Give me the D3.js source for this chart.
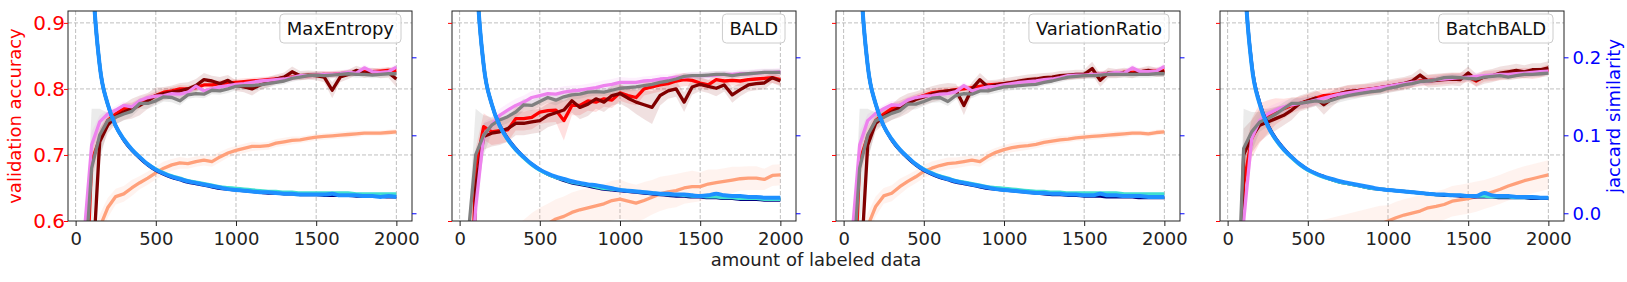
<!DOCTYPE html>
<html>
<head>
<meta charset="utf-8">
<script src="https://cdn.jsdelivr.net/npm/d3@7"></script>
<style>
  body { margin: 0; background: #fff; }
  svg text { font-family: "DejaVu Sans", sans-serif; }
</style>
</head>
<body>
<svg id="fig" width="1627" height="282"></svg>
<script>
// amount of labeled data at each acquisition step
var labeled = [50,100,150,200,250,300,350,400,450,500,
  550,600,650,700,750,800,850,900,950,1000,
  1050,1100,1150,1200,1250,1300,1350,1400,1450,1500,
  1550,1600,1650,1700,1750,1800,1850,1900,1950,2000];

var panelNames = ["MaxEntropy", "BALD", "VariationRatio", "BatchBALD"];
var xTicks = [0, 500, 1000, 1500, 2000];
var accTicks = [0.6, 0.7, 0.8, 0.9];
var jacTicks = [0.0, 0.1, 0.2];

// ---- MaxEntropy ----
var salmon1 = [0.50,0.560,0.590,0.620,0.637,0.641,0.650,0.658,0.665,0.673,
  0.680,0.685,0.688,0.687,0.690,0.692,0.690,0.697,0.703,0.707,
  0.710,0.713,0.713,0.714,0.718,0.720,0.722,0.723,0.725,0.727,
  0.728,0.729,0.730,0.731,0.732,0.733,0.733,0.733,0.734,0.735];
var salmonSd1 = [0.010,0.020,0.020,0.015,0.012,0.012,0.012,0.010,0.010,0.010,
  0.010,0.009,0.009,0.008,0.008,0.008,0.008,0.008,0.007,0.007,
  0.007,0.007,0.006,0.006,0.006,0.006,0.006,0.005,0.005,0.005,
  0.005,0.005,0.005,0.005,0.005,0.004,0.004,0.004,0.004,0.004];
var red1 = [0.40,0.690,0.725,0.752,0.762,0.770,0.772,0.778,0.785,0.790,
  0.795,0.797,0.800,0.800,0.802,0.806,0.806,0.808,0.809,0.810,
  0.811,0.812,0.813,0.814,0.815,0.817,0.818,0.819,0.820,0.821,
  0.822,0.822,0.823,0.824,0.825,0.826,0.826,0.827,0.828,0.828];
var redSd1 = [0.010,0.030,0.015,0.010,0.008,0.008,0.007,0.007,0.006,0.006,
  0.006,0.006,0.006,0.005,0.005,0.005,0.005,0.005,0.005,0.005,
  0.005,0.005,0.005,0.005,0.005,0.005,0.005,0.005,0.005,0.005,
  0.005,0.005,0.005,0.005,0.005,0.005,0.005,0.005,0.005,0.005];
var maroon1 = [0.20,0.500,0.720,0.745,0.758,0.765,0.770,0.775,0.782,0.790,
  0.793,0.795,0.797,0.800,0.805,0.814,0.812,0.808,0.813,0.805,
  0.803,0.800,0.806,0.810,0.815,0.818,0.826,0.820,0.821,0.820,
  0.818,0.798,0.818,0.822,0.828,0.824,0.826,0.823,0.825,0.815];
var maroonSd1 = [0.010,0.040,0.020,0.012,0.012,0.012,0.015,0.015,0.012,0.012,
  0.010,0.010,0.012,0.010,0.010,0.010,0.008,0.010,0.008,0.008,
  0.008,0.010,0.008,0.008,0.007,0.007,0.008,0.007,0.007,0.007,
  0.008,0.012,0.008,0.007,0.007,0.007,0.006,0.007,0.008,0.012];
var violet1 = [0.57,0.715,0.750,0.762,0.768,0.775,0.773,0.782,0.787,0.789,
  0.790,0.793,0.792,0.795,0.804,0.797,0.800,0.803,0.805,0.807,
  0.808,0.810,0.812,0.813,0.814,0.815,0.817,0.820,0.820,0.821,
  0.822,0.822,0.823,0.825,0.824,0.832,0.826,0.825,0.826,0.833];
var violetSd1 = [0.010,0.020,0.010,0.006,0.006,0.006,0.006,0.006,0.005,0.005,
  0.005,0.005,0.005,0.005,0.005,0.005,0.005,0.005,0.005,0.005,
  0.005,0.005,0.005,0.005,0.005,0.005,0.005,0.005,0.005,0.005,
  0.005,0.005,0.005,0.005,0.005,0.005,0.005,0.005,0.005,0.005];
var gray1 = [0.50,0.680,0.730,0.752,0.757,0.762,0.766,0.778,0.778,0.782,
  0.788,0.787,0.782,0.791,0.793,0.792,0.798,0.797,0.800,0.804,
  0.805,0.805,0.806,0.808,0.810,0.812,0.816,0.818,0.820,0.821,
  0.820,0.821,0.822,0.823,0.822,0.822,0.821,0.822,0.823,0.823];
var graySd1 = [0.010,0.090,0.040,0.012,0.010,0.010,0.008,0.008,0.008,0.007,
  0.007,0.007,0.007,0.006,0.006,0.006,0.006,0.006,0.006,0.006,
  0.006,0.006,0.006,0.006,0.005,0.005,0.005,0.005,0.005,0.005,
  0.005,0.005,0.005,0.005,0.005,0.005,0.005,0.005,0.005,0.005];
var blue1 = [0.70,0.330,0.190,0.140,0.112,0.095,0.082,0.072,0.063,0.056,
  0.051,0.047,0.044,0.041,0.039,0.037,0.035,0.033,0.031,0.030,
  0.029,0.028,0.027,0.027,0.026,0.025,0.025,0.024,0.024,0.024,
  0.024,0.025,0.023,0.023,0.023,0.022,0.022,0.021,0.022,0.021];
var navy1 = [0.70,0.330,0.190,0.140,0.112,0.094,0.081,0.071,0.062,0.055,
  0.050,0.046,0.043,0.040,0.038,0.036,0.034,0.032,0.031,0.030,
  0.029,0.028,0.027,0.026,0.026,0.025,0.025,0.024,0.024,0.024,
  0.023,0.023,0.023,0.023,0.022,0.022,0.022,0.022,0.021,0.021];
var turq1 = [0.70,0.330,0.190,0.140,0.112,0.095,0.082,0.072,0.063,0.057,
  0.052,0.048,0.045,0.042,0.040,0.038,0.036,0.034,0.033,0.032,
  0.031,0.030,0.029,0.028,0.028,0.027,0.027,0.026,0.026,0.026,
  0.026,0.026,0.026,0.026,0.025,0.025,0.025,0.025,0.025,0.025];

// ---- BALD ----
var salmon2 = [0.45,0.470,0.490,0.510,0.530,0.550,0.560,0.570,0.580,0.588,
  0.596,0.603,0.607,0.613,0.617,0.620,0.623,0.626,0.631,0.633,
  0.630,0.627,0.631,0.636,0.641,0.644,0.646,0.650,0.652,0.652,
  0.656,0.658,0.660,0.662,0.664,0.665,0.665,0.663,0.669,0.670];
var salmonSd2 = [0.020,0.020,0.025,0.030,0.030,0.030,0.032,0.032,0.032,0.032,
  0.030,0.030,0.030,0.030,0.030,0.030,0.030,0.030,0.030,0.030,
  0.028,0.028,0.028,0.026,0.026,0.025,0.025,0.024,0.024,0.022,
  0.022,0.020,0.020,0.020,0.018,0.018,0.018,0.016,0.016,0.016];
var red2 = [0.30,0.680,0.743,0.735,0.737,0.738,0.755,0.755,0.757,0.765,
  0.767,0.768,0.752,0.775,0.775,0.782,0.780,0.785,0.783,0.794,
  0.790,0.787,0.800,0.803,0.806,0.808,0.812,0.814,0.813,0.809,
  0.806,0.814,0.812,0.813,0.812,0.814,0.815,0.816,0.817,0.814];
var redSd2 = [0.010,0.030,0.020,0.020,0.020,0.018,0.018,0.018,0.018,0.018,
  0.018,0.018,0.030,0.015,0.015,0.015,0.015,0.012,0.012,0.012,
  0.012,0.012,0.010,0.010,0.010,0.010,0.010,0.010,0.008,0.008,
  0.008,0.008,0.008,0.008,0.008,0.008,0.008,0.008,0.008,0.008];
var maroon2 = [0.20,0.650,0.728,0.733,0.735,0.740,0.748,0.748,0.750,0.752,
  0.760,0.764,0.768,0.782,0.772,0.777,0.785,0.780,0.790,0.793,
  0.786,0.780,0.776,0.772,0.790,0.797,0.800,0.780,0.803,0.807,
  0.804,0.801,0.806,0.791,0.799,0.806,0.808,0.809,0.817,0.812];
var maroonSd2 = [0.010,0.040,0.020,0.020,0.020,0.020,0.018,0.018,0.018,0.018,
  0.018,0.018,0.018,0.018,0.018,0.018,0.015,0.015,0.015,0.015,
  0.015,0.018,0.022,0.025,0.015,0.012,0.012,0.015,0.012,0.010,
  0.010,0.012,0.010,0.012,0.010,0.010,0.010,0.010,0.008,0.008];
var violet2 = [0.45,0.620,0.730,0.745,0.760,0.768,0.775,0.780,0.787,0.790,
  0.793,0.792,0.795,0.797,0.798,0.800,0.802,0.805,0.807,0.810,
  0.810,0.810,0.812,0.813,0.815,0.816,0.818,0.818,0.820,0.820,
  0.820,0.821,0.822,0.822,0.823,0.823,0.824,0.825,0.825,0.826];
var violetSd2 = [0.010,0.040,0.020,0.012,0.010,0.010,0.010,0.010,0.010,0.010,
  0.009,0.009,0.009,0.008,0.008,0.008,0.008,0.008,0.008,0.008,
  0.007,0.007,0.007,0.007,0.007,0.006,0.006,0.006,0.006,0.006,
  0.006,0.006,0.006,0.006,0.006,0.006,0.006,0.006,0.006,0.006];
var gray2 = [0.57,0.700,0.730,0.745,0.753,0.758,0.765,0.776,0.775,0.781,
  0.787,0.783,0.788,0.791,0.792,0.795,0.796,0.795,0.798,0.801,
  0.802,0.803,0.805,0.807,0.810,0.812,0.815,0.819,0.820,0.820,
  0.821,0.822,0.822,0.820,0.822,0.823,0.824,0.825,0.825,0.825];
var graySd2 = [0.010,0.070,0.030,0.012,0.010,0.010,0.009,0.009,0.008,0.008,
  0.008,0.008,0.007,0.007,0.007,0.007,0.006,0.006,0.006,0.006,
  0.006,0.006,0.006,0.006,0.005,0.005,0.005,0.005,0.005,0.005,
  0.005,0.005,0.005,0.005,0.005,0.005,0.005,0.005,0.005,0.005];
var blue2 = [0.70,0.330,0.190,0.140,0.112,0.095,0.082,0.072,0.063,0.056,
  0.051,0.047,0.044,0.041,0.039,0.037,0.036,0.034,0.032,0.030,
  0.029,0.028,0.027,0.026,0.025,0.025,0.024,0.024,0.023,0.022,
  0.023,0.025,0.023,0.022,0.022,0.021,0.021,0.020,0.020,0.020];
var navy2 = [0.70,0.330,0.190,0.140,0.113,0.096,0.083,0.072,0.063,0.056,
  0.050,0.046,0.042,0.039,0.037,0.035,0.033,0.031,0.030,0.029,
  0.028,0.027,0.026,0.025,0.024,0.023,0.022,0.022,0.021,0.021,
  0.020,0.020,0.019,0.019,0.018,0.018,0.018,0.017,0.017,0.017];
var turq2 = [0.70,0.330,0.190,0.140,0.112,0.094,0.081,0.071,0.062,0.055,
  0.050,0.046,0.043,0.040,0.038,0.036,0.034,0.032,0.031,0.030,
  0.029,0.028,0.027,0.026,0.025,0.024,0.024,0.023,0.022,0.022,
  0.021,0.021,0.020,0.020,0.019,0.019,0.019,0.018,0.018,0.018];

// ---- VariationRatio ----
var salmon3 = [0.50,0.560,0.592,0.622,0.638,0.642,0.652,0.660,0.667,0.675,
  0.680,0.684,0.687,0.688,0.690,0.692,0.690,0.698,0.704,0.708,
  0.711,0.713,0.714,0.716,0.719,0.721,0.723,0.724,0.726,0.727,
  0.728,0.729,0.730,0.731,0.732,0.733,0.733,0.732,0.734,0.735];
var salmonSd3 = [0.010,0.020,0.020,0.015,0.012,0.012,0.012,0.010,0.010,0.010,
  0.010,0.009,0.009,0.008,0.008,0.008,0.008,0.008,0.007,0.007,
  0.007,0.007,0.006,0.006,0.006,0.006,0.006,0.005,0.005,0.005,
  0.005,0.005,0.005,0.005,0.005,0.004,0.004,0.004,0.004,0.004];
var red3 = [0.40,0.690,0.728,0.752,0.762,0.770,0.775,0.780,0.786,0.790,
  0.794,0.796,0.797,0.799,0.800,0.802,0.804,0.806,0.807,0.808,
  0.809,0.811,0.813,0.814,0.815,0.817,0.818,0.819,0.820,0.821,
  0.822,0.822,0.823,0.824,0.825,0.825,0.826,0.827,0.827,0.828];
var redSd3 = [0.010,0.030,0.015,0.010,0.008,0.008,0.007,0.007,0.006,0.006,
  0.006,0.006,0.006,0.005,0.005,0.005,0.005,0.005,0.005,0.005,
  0.005,0.005,0.005,0.005,0.005,0.005,0.005,0.005,0.005,0.005,
  0.005,0.005,0.005,0.005,0.005,0.005,0.005,0.005,0.005,0.005];
var maroon3 = [0.20,0.500,0.715,0.748,0.758,0.765,0.772,0.778,0.784,0.788,
  0.792,0.795,0.797,0.798,0.775,0.800,0.814,0.803,0.806,0.808,
  0.810,0.812,0.814,0.815,0.817,0.818,0.820,0.821,0.822,0.822,
  0.831,0.813,0.824,0.823,0.825,0.823,0.826,0.828,0.825,0.826];
var maroonSd3 = [0.010,0.040,0.020,0.012,0.012,0.012,0.015,0.015,0.012,0.012,
  0.012,0.012,0.012,0.010,0.015,0.010,0.010,0.010,0.008,0.008,
  0.008,0.008,0.008,0.008,0.007,0.007,0.007,0.007,0.007,0.007,
  0.010,0.010,0.008,0.007,0.007,0.007,0.006,0.007,0.007,0.007];
var violet3 = [0.57,0.715,0.752,0.763,0.770,0.776,0.775,0.783,0.787,0.789,
  0.790,0.792,0.793,0.796,0.805,0.797,0.800,0.803,0.804,0.806,
  0.808,0.810,0.811,0.812,0.814,0.815,0.817,0.820,0.821,0.821,
  0.822,0.822,0.823,0.825,0.824,0.832,0.826,0.826,0.827,0.834];
var violetSd3 = [0.010,0.020,0.010,0.006,0.006,0.006,0.006,0.006,0.005,0.005,
  0.005,0.005,0.005,0.005,0.005,0.005,0.005,0.005,0.005,0.005,
  0.005,0.005,0.005,0.005,0.005,0.005,0.005,0.005,0.005,0.005,
  0.005,0.005,0.005,0.005,0.005,0.005,0.005,0.005,0.005,0.005];
var gray3 = [0.50,0.680,0.730,0.752,0.757,0.763,0.767,0.777,0.777,0.781,
  0.786,0.787,0.781,0.790,0.793,0.792,0.797,0.797,0.800,0.803,
  0.804,0.805,0.806,0.807,0.810,0.812,0.815,0.818,0.819,0.820,
  0.820,0.821,0.822,0.822,0.822,0.822,0.822,0.822,0.823,0.823];
var graySd3 = [0.010,0.090,0.040,0.012,0.010,0.010,0.008,0.008,0.008,0.007,
  0.007,0.007,0.007,0.006,0.006,0.006,0.006,0.006,0.006,0.006,
  0.006,0.006,0.006,0.006,0.005,0.005,0.005,0.005,0.005,0.005,
  0.005,0.005,0.005,0.005,0.005,0.005,0.005,0.005,0.005,0.005];
var blue3 = [0.70,0.330,0.190,0.140,0.112,0.095,0.082,0.072,0.063,0.056,
  0.051,0.047,0.044,0.041,0.039,0.037,0.035,0.033,0.031,0.030,
  0.029,0.028,0.027,0.026,0.026,0.025,0.025,0.024,0.024,0.023,
  0.023,0.025,0.023,0.023,0.022,0.022,0.022,0.021,0.021,0.021];
var navy3 = [0.70,0.330,0.190,0.140,0.112,0.094,0.081,0.071,0.062,0.055,
  0.050,0.046,0.043,0.040,0.038,0.036,0.034,0.032,0.031,0.030,
  0.029,0.028,0.027,0.026,0.025,0.024,0.024,0.023,0.023,0.022,
  0.022,0.022,0.021,0.021,0.021,0.021,0.020,0.020,0.020,0.020];
var turq3 = [0.70,0.330,0.190,0.140,0.112,0.095,0.082,0.072,0.063,0.057,
  0.052,0.048,0.045,0.042,0.040,0.038,0.036,0.034,0.033,0.032,
  0.031,0.030,0.029,0.028,0.028,0.027,0.027,0.026,0.026,0.026,
  0.026,0.026,0.026,0.026,0.025,0.025,0.025,0.025,0.025,0.025];

// ---- BatchBALD ----
var salmon4 = [0.40,0.420,0.440,0.460,0.480,0.500,0.510,0.520,0.530,0.540,
  0.555,0.560,0.565,0.570,0.575,0.580,0.585,0.590,0.595,0.600,
  0.605,0.609,0.612,0.615,0.620,0.622,0.625,0.630,0.632,0.634,
  0.637,0.640,0.644,0.648,0.653,0.657,0.661,0.664,0.667,0.670];
var salmonSd4 = [0.020,0.030,0.035,0.040,0.042,0.044,0.045,0.045,0.045,0.045,
  0.044,0.042,0.040,0.038,0.036,0.034,0.032,0.030,0.028,0.024,
  0.024,0.024,0.024,0.024,0.023,0.023,0.023,0.023,0.023,0.023,
  0.023,0.022,0.022,0.022,0.022,0.022,0.022,0.022,0.022,0.022];
var red4 = [0.25,0.655,0.725,0.748,0.758,0.766,0.770,0.775,0.778,0.782,
  0.786,0.790,0.791,0.793,0.796,0.797,0.799,0.800,0.802,0.804,
  0.806,0.808,0.810,0.812,0.813,0.814,0.815,0.816,0.817,0.818,
  0.812,0.819,0.820,0.821,0.822,0.823,0.824,0.823,0.825,0.829];
var redSd4 = [0.010,0.040,0.030,0.030,0.025,0.020,0.015,0.012,0.010,0.010,
  0.010,0.010,0.010,0.009,0.009,0.009,0.008,0.008,0.008,0.008,
  0.008,0.008,0.008,0.008,0.008,0.008,0.008,0.008,0.008,0.008,
  0.008,0.008,0.008,0.008,0.008,0.008,0.008,0.008,0.008,0.008];
var maroon4 = [0.28,0.700,0.728,0.745,0.750,0.755,0.760,0.768,0.778,0.782,
  0.786,0.776,0.785,0.793,0.796,0.797,0.798,0.800,0.802,0.804,
  0.806,0.808,0.812,0.821,0.812,0.813,0.814,0.815,0.814,0.824,
  0.813,0.818,0.820,0.824,0.826,0.828,0.826,0.829,0.829,0.832];
var maroonSd4 = [0.010,0.040,0.025,0.025,0.020,0.018,0.015,0.015,0.012,0.012,
  0.012,0.015,0.012,0.010,0.010,0.010,0.010,0.010,0.010,0.010,
  0.010,0.010,0.010,0.010,0.010,0.010,0.010,0.010,0.010,0.010,
  0.010,0.010,0.010,0.010,0.010,0.010,0.010,0.010,0.010,0.010];
var violet4 = [0.40,0.600,0.725,0.752,0.762,0.768,0.773,0.776,0.778,0.780,
  0.783,0.786,0.789,0.792,0.794,0.796,0.798,0.800,0.802,0.804,
  0.806,0.808,0.810,0.811,0.812,0.814,0.815,0.816,0.817,0.818,
  0.819,0.820,0.821,0.822,0.822,0.823,0.824,0.825,0.826,0.827];
var violetSd4 = [0.010,0.030,0.020,0.012,0.010,0.010,0.010,0.008,0.008,0.008,
  0.008,0.008,0.008,0.007,0.007,0.007,0.007,0.007,0.006,0.006,
  0.006,0.006,0.006,0.006,0.006,0.006,0.006,0.006,0.006,0.006,
  0.006,0.006,0.006,0.006,0.006,0.006,0.006,0.006,0.006,0.006];
var gray4 = [0.40,0.710,0.735,0.750,0.755,0.762,0.770,0.778,0.778,0.780,
  0.782,0.780,0.783,0.787,0.790,0.792,0.794,0.796,0.797,0.801,
  0.803,0.806,0.808,0.811,0.812,0.814,0.817,0.818,0.817,0.816,
  0.815,0.818,0.819,0.820,0.818,0.820,0.822,0.822,0.823,0.824];
var graySd4 = [0.010,0.060,0.030,0.015,0.012,0.010,0.010,0.009,0.008,0.008,
  0.008,0.008,0.007,0.007,0.007,0.007,0.006,0.006,0.006,0.006,
  0.006,0.006,0.006,0.006,0.005,0.005,0.005,0.005,0.005,0.005,
  0.005,0.005,0.005,0.005,0.005,0.005,0.005,0.005,0.005,0.005];
var blue4 = [0.70,0.330,0.190,0.140,0.112,0.095,0.082,0.072,0.063,0.056,
  0.051,0.047,0.044,0.041,0.039,0.037,0.035,0.033,0.031,0.030,
  0.029,0.028,0.027,0.026,0.025,0.024,0.024,0.023,0.023,0.022,
  0.022,0.026,0.023,0.022,0.022,0.021,0.021,0.021,0.020,0.020];
var navy4 = [0.70,0.330,0.192,0.142,0.114,0.096,0.083,0.072,0.063,0.056,
  0.051,0.047,0.043,0.040,0.038,0.036,0.034,0.032,0.031,0.030,
  0.029,0.028,0.027,0.026,0.025,0.024,0.023,0.023,0.022,0.022,
  0.021,0.021,0.021,0.020,0.020,0.020,0.020,0.019,0.019,0.019];
var turq4 = [0.70,0.330,0.190,0.140,0.112,0.094,0.081,0.071,0.062,0.055,
  0.050,0.046,0.043,0.040,0.038,0.036,0.034,0.032,0.031,0.030,
  0.029,0.028,0.027,0.026,0.025,0.024,0.024,0.023,0.023,0.022,
  0.022,0.022,0.021,0.021,0.021,0.020,0.020,0.020,0.020,0.020];

// drawing order: salmon, red, maroon, violet, gray; then jaccard navy, turquoise, blue
var accColors = ["#ffa07a", "#ff0000", "#800000", "#ee82ee", "#808080"];
var jacColors = ["#000080", "#40e0d0", "#1e90ff"];

var panels = [
  {name: panelNames[0],
   acc: [[salmon1, salmonSd1], [red1, redSd1], [maroon1, maroonSd1], [violet1, violetSd1], [gray1, graySd1]],
   jac: [navy1, turq1, blue1]},
  {name: panelNames[1],
   acc: [[salmon2, salmonSd2], [red2, redSd2], [maroon2, maroonSd2], [violet2, violetSd2], [gray2, graySd2]],
   jac: [navy2, turq2, blue2]},
  {name: panelNames[2],
   acc: [[salmon3, salmonSd3], [red3, redSd3], [maroon3, maroonSd3], [violet3, violetSd3], [gray3, graySd3]],
   jac: [navy3, turq3, blue3]},
  {name: panelNames[3],
   acc: [[salmon4, salmonSd4], [red4, redSd4], [maroon4, maroonSd4], [violet4, violetSd4], [gray4, graySd4]],
   jac: [navy4, turq4, blue4]}
];

var svg = d3.select("#fig");
var left0 = 68, top0 = 11, pw = 344, ph = 210, step = 384;

var x = d3.scaleLinear().domain([-47.5, 2097.5]).range([0, pw]);
var yAcc = d3.scaleLinear().domain([0.6, 0.918]).range([ph, 0]);
var yJac = d3.scaleLinear().domain([-0.0099, 0.2594]).range([ph, 0]);

function rows(mean, sd) {
  return labeled.map(function(l, i) { return {x: l, m: mean[i], s: sd ? sd[i] : 0}; });
}

var band = d3.area()
    .x(function(d) { return x(d.x); })
    .y0(function(d) { return yAcc(d.m - d.s); })
    .y1(function(d) { return yAcc(d.m + d.s); });
var accLine = d3.line()
    .x(function(d) { return x(d.x); })
    .y(function(d) { return yAcc(d.m); });
var jacLine = d3.line()
    .curve(d3.curveMonotoneX)
    .x(function(d) { return x(d.x); })
    .y(function(d) { return yJac(d.m); });

panels.forEach(function(p, pi) {
  var g = svg.append("g")
      .attr("transform", "translate(" + (left0 + pi * step) + "," + top0 + ")");

  g.append("clipPath").attr("id", "clip" + pi)
    .append("rect").attr("width", pw).attr("height", ph);

  // grid
  g.append("g").selectAll("line").data(xTicks).enter().append("line")
      .attr("x1", function(d) { return x(d); }).attr("x2", function(d) { return x(d); })
      .attr("y1", 0).attr("y2", ph)
      .attr("stroke", "#b8b8b8").attr("stroke-width", 0.9).attr("stroke-dasharray", "4,2");
  g.append("g").selectAll("line").data(accTicks.slice(1)).enter().append("line")
      .attr("x1", 0).attr("x2", pw)
      .attr("y1", function(d) { return yAcc(d); }).attr("y2", function(d) { return yAcc(d); })
      .attr("stroke", "#b8b8b8").attr("stroke-width", 0.9).attr("stroke-dasharray", "4,2");

  var plot = g.append("g").attr("clip-path", "url(#clip" + pi + ")");

  p.acc.forEach(function(s, si) {
    plot.append("path").datum(rows(s[0], s[1]))
        .attr("d", band)
        .attr("fill", accColors[si])
        .attr("fill-opacity", si == 4 ? 0.16 : 0.12);
  });
  p.acc.forEach(function(s, si) {
    plot.append("path").datum(rows(s[0]))
        .attr("d", accLine)
        .attr("fill", "none")
        .attr("stroke", accColors[si])
        .attr("stroke-width", 3.3)
        .attr("stroke-linejoin", "round");
  });
  p.jac.forEach(function(s, si) {
    plot.append("path").datum(rows(s))
        .attr("d", jacLine)
        .attr("fill", "none")
        .attr("stroke", jacColors[si])
        .attr("stroke-width", si == 2 ? 4 : 3.3);
  });

  // spines
  g.append("rect").attr("width", pw).attr("height", ph)
      .attr("fill", "none").attr("stroke", "#222").attr("stroke-width", 1);

  // axes
  var xa = g.append("g").attr("transform", "translate(0," + ph + ")")
      .call(d3.axisBottom(x).tickValues(xTicks).tickSize(5).tickPadding(6.5)
        .tickFormat(d3.format("d")));
  xa.select(".domain").remove();
  xa.selectAll("line").attr("stroke", "#222");
  xa.selectAll("text").attr("font-size", 18).attr("fill", "#222")
      .attr("font-family", "DejaVu Sans, sans-serif");

  var ya = g.append("g")
      .call(d3.axisLeft(yAcc).tickValues(accTicks).tickSize(4).tickPadding(-1)
        .tickFormat(pi == 0 ? d3.format(".1f") : function() { return ""; }));
  ya.select(".domain").remove();
  ya.selectAll("line").attr("stroke", "red");
  ya.selectAll("text").attr("font-size", 20).attr("fill", "red")
      .attr("font-family", "DejaVu Sans, sans-serif");

  var yr = g.append("g").attr("transform", "translate(" + pw + ",0)")
      .call(d3.axisRight(yJac).tickValues(jacTicks).tickSize(4.5).tickPadding(4)
        .tickFormat(pi == 3 ? d3.format(".1f") : function() { return ""; }));
  yr.select(".domain").remove();
  yr.selectAll("line").attr("stroke", "blue");
  yr.selectAll("text").attr("font-size", 18).attr("fill", "blue")
      .attr("font-family", "DejaVu Sans, sans-serif");

  // legend box with panel name
  var lg = g.append("g");
  var box = lg.append("rect");
  var txt = lg.append("text").text(p.name)
      .attr("font-size", 18).attr("fill", "#111");
  var tw = txt.node().getComputedTextLength();
  var bw = tw + 14, bx = pw - 11 - bw;
  box.attr("x", bx).attr("y", 3).attr("width", bw).attr("height", 29)
      .attr("rx", 4).attr("fill", "#fff").attr("fill-opacity", 0.8)
      .attr("stroke", "#cccccc").attr("stroke-width", 1);
  txt.attr("x", bx + 7).attr("y", 24);
});

// axis titles
svg.append("text").text("validation accuracy")
    .attr("transform", "translate(21," + (top0 + ph / 2) + ") rotate(-90)")
    .attr("text-anchor", "middle").attr("font-size", 18).attr("fill", "red");
svg.append("text").text("jaccard similarity")
    .attr("transform", "translate(1620," + (top0 + ph / 2) + ") rotate(-90)")
    .attr("text-anchor", "middle").attr("font-size", 18).attr("fill", "blue");
svg.append("text").text("amount of labeled data")
    .attr("x", 816).attr("y", 266)
    .attr("text-anchor", "middle").attr("font-size", 18).attr("fill", "#222");
</script>
</body>
</html>
